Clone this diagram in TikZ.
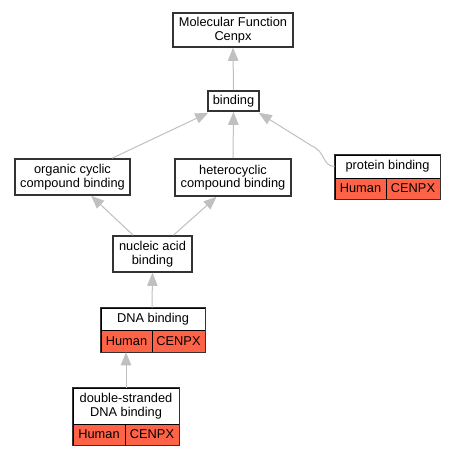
\documentclass[tikz,border=0pt]{standalone}
\usepackage{fontspec}
\setmainfont{Liberation Sans}
\usetikzlibrary{arrows.meta,calc}
\definecolor{edgegray}{HTML}{C0C0C0}
\definecolor{boxborder}{HTML}{333333}
\definecolor{hitred}{HTML}{FF6347}
\tikzset{
  box/.style={draw=boxborder, line width=1.6pt, fill=white, inner sep=0pt, align=center,
    font=\fontsize{12.8}{13.5}\selectfont},
  cell/.style={draw=black, line width=0.7pt, fill=hitred, inner sep=0pt, align=center,
    font=\fontsize{12.8}{13.5}\selectfont},
  toppart/.style={draw=black, line width=0.7pt, fill=white, inner sep=0pt, align=center,
    font=\fontsize{12.8}{13.5}\selectfont},
  frame/.style={draw=boxborder, line width=1.6pt},
  edge/.style={draw=edgegray, line width=1pt, -{Triangle[length=13pt,width=10.5pt,fill=edgegray]}},
}
\begin{document}
\begin{tikzpicture}[x=1pt,y=-1pt]
\useasboundingbox[fill=white] (0,0) rectangle (456,456);
% plain nodes
\node[box, minimum width=120pt, minimum height=34pt] (mf) at (233,30) {Molecular Function\\Cenpx};
\node[box, minimum width=51pt, minimum height=20pt] (bind) at (233.5,101) {binding};
\node[box, minimum width=115pt, minimum height=36pt] (org) at (72.5,177) {organic cyclic\\compound binding};
\node[box, minimum width=116pt, minimum height=37pt] (het) at (233,177.5) {heterocyclic\\compound binding};
\node[box, minimum width=79pt, minimum height=36pt] (nuc) at (152.5,254) {nucleic acid\\binding};
% protein binding
\node[toppart, minimum width=105pt, minimum height=23pt] (pbt) at (387.5,166.5) {protein binding};
\node[cell, minimum width=51pt, minimum height=21pt] (pbh) at (360.5,188.5) {Human};
\node[cell, minimum width=54pt, minimum height=21pt] (pbc) at (413,188.5) {CENPX};
\draw[frame] (pbt.north west) rectangle (pbc.south east);
% DNA binding
\node[toppart, minimum width=104pt, minimum height=22pt] (dnat) at (153,319) {DNA binding};
\node[cell, minimum width=51pt, minimum height=22pt] (dnah) at (126.5,341) {Human};
\node[cell, minimum width=53pt, minimum height=22pt] (dnac) at (178.5,341) {CENPX};
\draw[frame] (dnat.north west) rectangle (dnac.south east);
% double-stranded DNA binding
\node[toppart, minimum width=106pt, minimum height=36pt] (dst) at (126,406) {double-stranded\\DNA binding};
\node[cell, minimum width=52pt, minimum height=21pt] (dsh) at (99,434.5) {Human};
\node[cell, minimum width=54pt, minimum height=21pt] (dsc) at (152,434.5) {CENPX};
\draw[frame] (dst.north west) rectangle (dsc.south east);
% edges
\draw[edge] (bind.north) -- (mf.south);
\draw[edge] (het.north) -- (bind.south);
\draw[edge] ($(org.north west)!0.84!(org.north east)$) -- ($(bind.south west)+(1,1)$);
\draw[edge] (pbt.west) .. controls (322,166) and (326,152) .. (312,146) -- ($(bind.south east)+(-1,1)$);
\draw[edge] ($(nuc.north west)!0.26!(nuc.north east)$) -- ($(org.south west)!0.66!(org.south east)$);
\draw[edge] ($(nuc.north west)!0.76!(nuc.north east)$) -- ($(het.south west)!0.36!(het.south east)$);
\draw[edge] (dnat.north) ++(-1,0) -- (nuc.south);
\draw[edge] (dst.north) -- (dst.north |- dnah.south);
\end{tikzpicture}
\end{document}
